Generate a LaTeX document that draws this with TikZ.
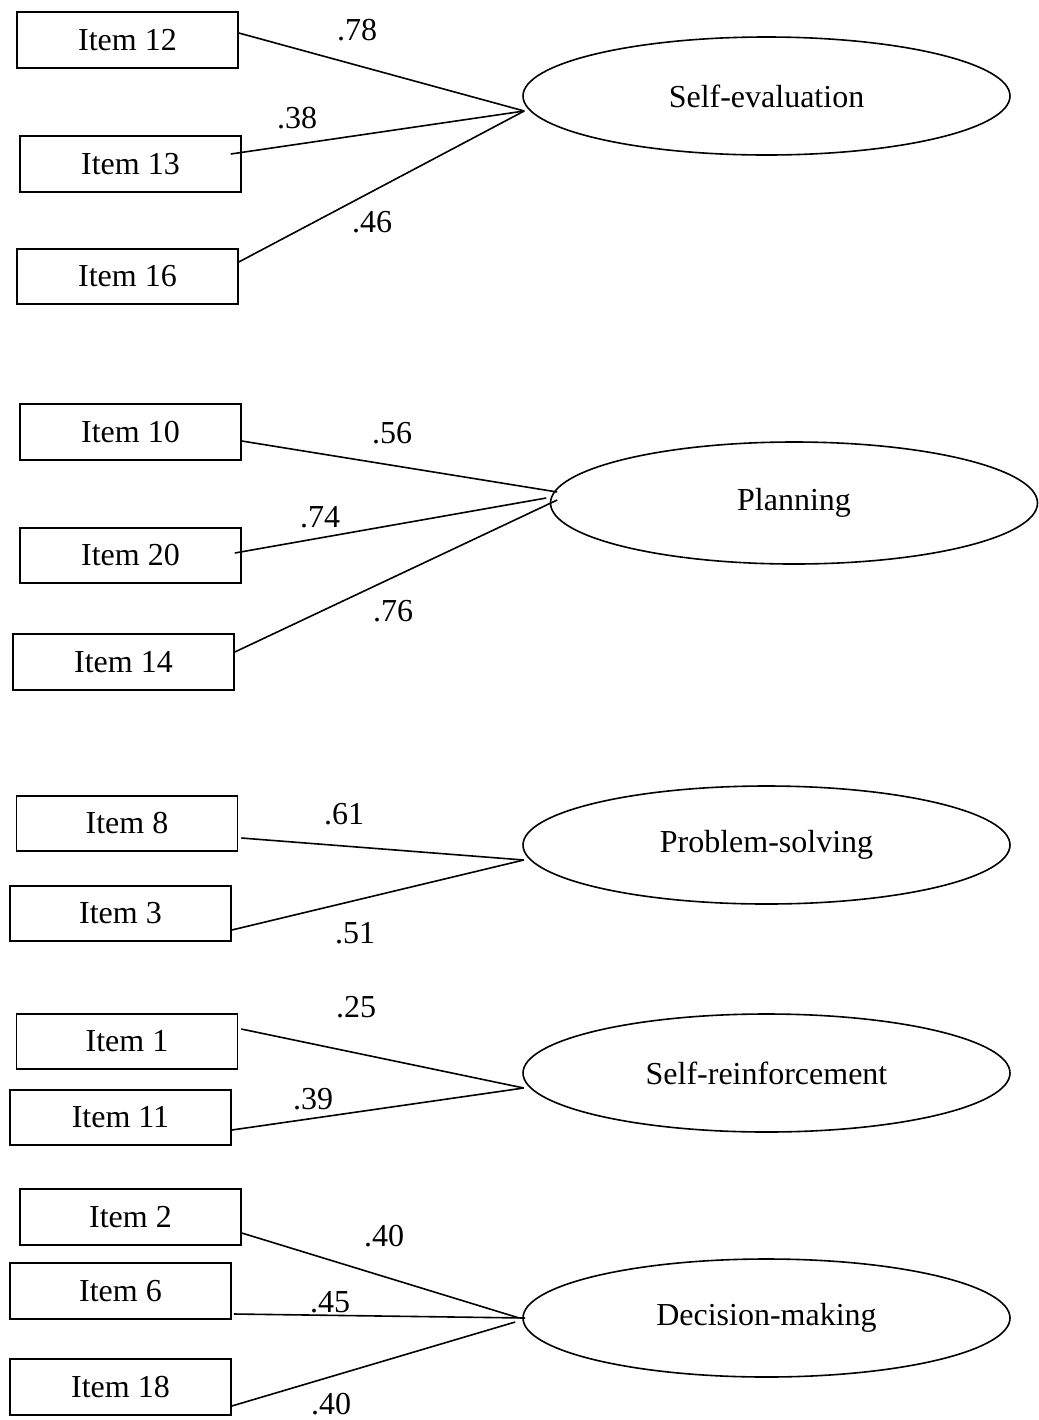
\documentclass[tikz,border=0pt]{standalone}
\usepackage{fontspec}
\setmainfont{Liberation Serif}
\usetikzlibrary{shapes.geometric}
\begin{document}
\begin{tikzpicture}[x=0.5pt,y=-0.5pt,
  every node/.style={font=\fontsize{16}{19}\selectfont},
  itembox/.style={draw, line width=0.8pt, rectangle, minimum width=110.5pt, minimum height=27.75pt, inner sep=0pt},
  factor/.style={draw, line width=0.8pt, ellipse, minimum width=243.5pt, minimum height=59pt, inner sep=0pt},
  loading/.style={inner sep=0pt},
  link/.style={line width=0.8pt}]
\useasboundingbox (0,0) rectangle (1039,1420);

% Self-evaluation
\node[itembox] (i12) at (127.5,40) {Item 12};
\node[itembox] (i13) at (130.5,164) {Item 13};
\node[itembox] (i16) at (127.5,276.5) {Item 16};
\node[factor] (se) at (766.5,96) {Self-evaluation};
\draw[link] ([shift={(0,-7)}]i12.east) -- ([shift={(2,15)}]se.west);
\draw[link] ([shift={(-11,-10)}]i13.east) -- ([shift={(2,15)}]se.west);
\draw[link] ([shift={(0,-14.5)}]i16.east) -- ([shift={(2,15)}]se.west);
\node[loading] (l12) at (357,30) {.78};
\node[loading] (l13) at (297,118) {.38};
\node[loading] (l16) at (372,222) {.46};

% Planning
\node[itembox] (i10) at (130.5,432) {Item 10};
\node[itembox] (i20) at (130.5,555.5) {Item 20};
\node[itembox] (i14) at (123.5,662) {Item 14};
\node[factor, minimum height=61pt] (pl) at (794,503) {Planning};
\draw[link] ([shift={(0,9)}]i10.east) -- ([shift={(7.5,-11)}]pl.west);
\draw[link] ([shift={(-7,-2.5)}]i20.east) -- ([shift={(-3.5,-5)}]pl.west);
\draw[link] ([shift={(0,-10)}]i14.east) -- ([shift={(7.5,-3)}]pl.west);
\node[loading] (l10) at (392,433) {.56};
\node[loading] (l20) at (320,517) {.74};
\node[loading] (l14) at (393,611) {.76};

% Problem-solving
\node[itembox] (i8) at (127,823.5) {Item 8};
\node[itembox] (i3) at (120.5,913.5) {Item 3};
\node[factor] (ps) at (766.5,845) {Problem-solving};
\draw[link] ([shift={(3,14.5)}]i8.east) -- ([shift={(1.5,15)}]ps.west);
\draw[link] ([shift={(0,16.5)}]i3.east) -- ([shift={(1.5,15)}]ps.west);
\node[loading] (l8) at (344,814) {.61};
\node[loading] (l3) at (355,933) {.51};

% Self-reinforcement
\node[itembox] (i1) at (127,1041.5) {Item 1};
\node[itembox] (i11) at (120.5,1117.5) {Item 11};
\node[factor] (sr) at (766.5,1073) {Self-reinforcement};
\draw[link] ([shift={(3,-12.5)}]i1.east) -- ([shift={(1.5,15)}]sr.west);
\draw[link] ([shift={(0,12.5)}]i11.east) -- ([shift={(1.5,15)}]sr.west);
\node[loading] (l1) at (356,1007) {.25};
\node[loading] (l11) at (313,1099) {.39};

% Decision-making
\node[itembox] (i2) at (130.5,1217) {Item 2};
\node[itembox] (i6) at (120.5,1291) {Item 6};
\node[itembox] (i18) at (120.5,1387) {Item 18};
\node[factor] (dm) at (766.5,1318) {Decision-making};
\draw[link] ([shift={(0,16)}]i2.east) -- ([shift={(-3,0)}]dm.west);
\draw[link] ([shift={(2,23)}]i6.east) -- ([shift={(3,0)}]dm.west);
\draw[link] ([shift={(0,19)}]i18.east) -- ([shift={(-7,4)}]dm.west);
\node[loading] (l2) at (384,1236) {.40};
\node[loading] (l6) at (330,1302) {.45};
\node[loading] (l18) at (331,1404) {.40};
\end{tikzpicture}
\end{document}
